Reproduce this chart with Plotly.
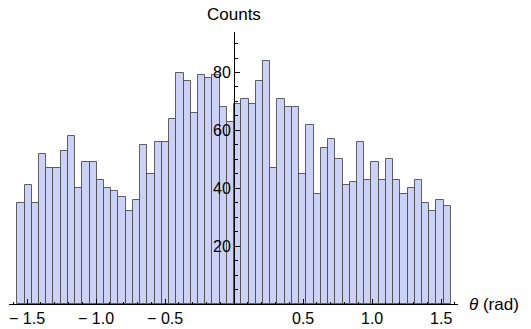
import math
import plotly.graph_objects as go

# Histogram of theta (rad): 60 equal bins spanning -pi/2 .. pi/2
bin_lo = -math.pi / 2
bin_hi = math.pi / 2
counts = [35, 41, 35, 52, 47, 47, 53, 58, 40, 49,
          49, 43, 40, 39, 37, 32, 36, 55, 45, 56,
          56, 64, 80, 77, 66, 79, 78, 79, 68, 63,
          69, 71, 69, 77, 84, 47, 71, 68, 68, 45,
          62, 38, 54, 57, 50, 41, 42, 56, 43, 49,
          43, 50, 43, 38, 40, 43, 35, 32, 36, 34]

x_tickvals = [-1.5, -1.0, -0.5, 0.5, 1.0, 1.5]
x_ticktext = ["\u2212 1.5", "\u2212 1.0", "\u2212 0.5", "0.5", "1.0", "1.5"]
y_tickvals = [20, 40, 60, 80]
y_ticktext = ["20", "40", "60", "80"]

nb = len(counts)
width = (bin_hi - bin_lo) / nb
centers = [bin_lo + (i + 0.5) * width for i in range(nb)]

xr = [-1.631, 1.622]
yr = [0, 94]

FONT = "Liberation Sans, Arial, sans-serif"

fig = go.Figure()
fig.add_trace(go.Bar(
    x=centers, y=counts, width=width,
    marker=dict(color="rgb(204,210,246)",
                line=dict(color="rgba(70,70,70,0.85)", width=1)),
    hoverinfo="x+y",
))

ypos = (0 - xr[0]) / (xr[1] - xr[0])

fig.update_layout(
    width=531, height=329,
    margin=dict(l=9, r=73, t=32, b=25, autoexpand=False),
    paper_bgcolor="white", plot_bgcolor="white",
    showlegend=False, bargap=0,
    font=dict(family=FONT, size=16, color="black"),
    xaxis=dict(
        range=xr, showgrid=False, zeroline=False,
        showline=True, linecolor="black", linewidth=1,
        ticks="inside", ticklen=5, tickcolor="black", tickwidth=1,
        tickmode="array", tickvals=x_tickvals, ticktext=x_ticktext,
        tickfont=dict(size=16),
        minor=dict(tickmode="array",
                   tickvals=[round(-1.6 + 0.1 * k, 2) for k in range(33)],
                   ticks="inside", ticklen=2.5, tickcolor="black"),
        automargin=False,
    ),
    yaxis=dict(
        range=yr, showgrid=False, zeroline=False,
        anchor="free", position=ypos,
        showline=True, linecolor="black", linewidth=1,
        ticks="inside", ticklen=5, tickcolor="black", tickwidth=1,
        tickmode="array", tickvals=y_tickvals, ticktext=y_ticktext,
        tickfont=dict(size=16),
        minor=dict(dtick=5, ticks="inside", ticklen=2.5, tickcolor="black"),
        automargin=False,
    ),
    annotations=[
        dict(text="Counts", x=0, xref="x", y=1, yref="paper",
             xanchor="center", yanchor="bottom", yshift=6,
             showarrow=False, font=dict(size=17, family=FONT)),
        dict(text="<i>\u03b8</i> (rad)", x=1, xref="paper", y=0, yref="y",
             xanchor="left", yanchor="middle", xshift=9,
             showarrow=False, font=dict(size=17, family=FONT)),
    ],
)

fig.write_html("out.html")
